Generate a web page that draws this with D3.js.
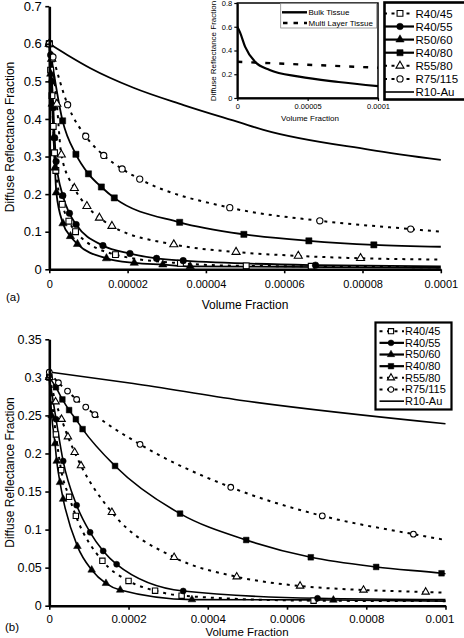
<!DOCTYPE html>
<html><head><meta charset="utf-8">
<script src="https://cdn.jsdelivr.net/npm/d3@7"></script>
<style>
body{margin:0;background:#fff;}
svg{display:block;font-family:"Liberation Sans",Arial,Helvetica,sans-serif;}
</style></head><body>
<svg id="c" width="464" height="638"></svg>
<script>
// ================= DATA =================
const seriesNames = ["R40/45","R40/55","R50/60","R40/80","R55/80","R75/115","R10-Au"];

// ---- panel (a): volume fraction 0 .. 0.0001 ----
const aVolR4045 = [0, 0.33e-6, 0.67e-6, 1.0e-6, 1.33e-6, 1.67e-6, 3.3e-6, 5.0e-6, 6.7e-6, 1.69e-5, 3.35e-5, 5.03e-5, 6.69e-5];
const aRefR4045 = [0.60, 0.53, 0.462, 0.38, 0.31, 0.263, 0.173, 0.128, 0.100, 0.039, 0.016, 0.009, 0.008];
const aVolR4055 = [0, 0.34e-6, 0.68e-6, 1.03e-6, 1.37e-6, 1.74e-6, 3.45e-6, 5.14e-6, 6.85e-6, 1.37e-5, 2.06e-5, 2.74e-5, 3.42e-5, 6.8e-5];
const aRefR4055 = [0.60, 0.57, 0.50, 0.43, 0.35, 0.287, 0.196, 0.149, 0.119, 0.063, 0.042, 0.029, 0.023, 0.011];
const aVolR5060 = [0, 0.36e-6, 0.72e-6, 1.08e-6, 1.44e-6, 1.8e-6, 3.5e-6, 5.4e-6, 7.2e-6, 1.46e-5, 2.17e-5, 2.9e-5, 3.6e-5];
const aRefR5060 = [0.60, 0.52, 0.44, 0.35, 0.27, 0.204, 0.122, 0.088, 0.067, 0.029, 0.017, 0.0125, 0.008];
const aVolR4080 = [0, 3.4e-6, 6.8e-6, 1.0e-5, 1.33e-5, 1.66e-5, 3.33e-5, 4.97e-5, 6.63e-5, 8.29e-5];
const aRefR4080 = [0.60, 0.395, 0.306, 0.254, 0.219, 0.190, 0.125, 0.093, 0.0757, 0.065];
const aVolR5580 = [0, 0.64e-6, 1.92e-6, 3.07e-6, 6.4e-6, 9.6e-6, 1.28e-5, 1.6e-5, 3.18e-5, 4.77e-5, 6.36e-5, 7.95e-5];
const aRefR5580 = [0.60, 0.56, 0.44, 0.305, 0.216, 0.168, 0.137, 0.115, 0.066, 0.046, 0.0356, 0.0294];
const aVolR75115 = [0, 0.93e-6, 4.68e-6, 9.3e-6, 1.39e-5, 1.86e-5, 2.31e-5, 4.61e-5, 6.91e-5, 9.23e-5];
const aRefR75115 = [0.60, 0.565, 0.438, 0.354, 0.303, 0.267, 0.240, 0.164, 0.129, 0.107];
const aVolR10Au = [0, 4.5e-6, 1.05e-5, 2.15e-5, 3.43e-5, 4.88e-5, 5.47e-5, 8.2e-5, 1.0e-4];
const aRefR10Au = [0.60, 0.571, 0.535, 0.483, 0.437, 0.39, 0.371, 0.318, 0.291];
// value of each fitted line where it reaches the right edge (0.0001)
const aLineEnd = [0.005, 0.008, 0.004, 0.060, 0.026, 0.100, null];

// ---- inset of panel (a) ----
const insetNames = ["Bulk Tissue","Multi Layer Tissue"];
const insetVolBulk = [0, 2.0e-6, 5.6e-6, 1.26e-5, 2.3e-5, 4.4e-5, 7.2e-5, 1.0e-4];
const insetRefBulk = [0.60, 0.55, 0.43, 0.305, 0.236, 0.18, 0.135, 0.10];
const insetVolMulti = [0, 5e-5, 1.0e-4];
const insetRefMulti = [0.305, 0.28, 0.255];

// ---- panel (b): volume fraction 0 .. 0.001 ----
const bVolR4045 = [0, 1.67e-5, 3.0e-5, 5.0e-5, 6.7e-5, 1.34e-4, 2.0e-4, 2.67e-4, 3.34e-4, 6.67e-4];
const bRefR4045 = [0.30, 0.225, 0.178, 0.143, 0.118, 0.059, 0.0325, 0.0197, 0.0131, 0.0066];
const bVolR4055 = [0, 1.7e-5, 3.5e-5, 6.9e-5, 1.03e-4, 1.36e-4, 1.70e-4, 3.38e-4, 6.77e-4];
const bRefR4055 = [0.30, 0.245, 0.19, 0.132, 0.0964, 0.0719, 0.0544, 0.0193, 0.0097];
const bVolR5060 = [0, 6e-6, 1.44e-5, 1.87e-5, 2.7e-5, 3.5e-5, 7.1e-5, 1.07e-4, 1.43e-4, 1.79e-4, 3.6e-4, 7.17e-4];
const bRefR5060 = [0.30, 0.25, 0.213, 0.19, 0.162, 0.14, 0.078, 0.047, 0.0294, 0.0206, 0.008, 0.0075];
const bVolR4080 = [0, 1.67e-5, 3.3e-5, 5.0e-5, 6.7e-5, 8.4e-5, 1.66e-4, 3.3e-4, 4.97e-4, 6.6e-4, 8.25e-4, 9.9e-4];
const bRefR4080 = [0.30, 0.287, 0.271, 0.257, 0.245, 0.232, 0.1836, 0.121, 0.0863, 0.0636, 0.0509, 0.0426];
const bVolR5580 = [0, 1.59e-5, 3.1e-5, 4.7e-5, 6.4e-5, 8.0e-5, 1.58e-4, 3.15e-4, 4.73e-4, 6.33e-4, 7.93e-4, 9.5e-4];
const bRefR5580 = [0.30, 0.268, 0.245, 0.222, 0.2015, 0.184, 0.1227, 0.0636, 0.038, 0.0259, 0.0206, 0.018];
const bVolR75115 = [0, 2.3e-5, 4.6e-5, 6.9e-5, 9.2e-5, 1.15e-4, 2.29e-4, 4.58e-4, 6.89e-4, 9.19e-4];
const bRefR75115 = [0.307, 0.293, 0.282, 0.271, 0.261, 0.251, 0.212, 0.1556, 0.118, 0.094];
const bVolR10Au = [0, 2.12e-4, 4.81e-4, 1.0e-3];
const bRefR10Au = [0.307, 0.292, 0.270, 0.239];
const bLineEnd = [0.006, 0.008, 0.006, 0.042, 0.017, 0.0863, null];

// ---- tick labels ----
const aXTicks = [0, 0.00002, 0.00004, 0.00006, 0.00008, 0.0001];
const aXLabels = ["0","0.00002","0.00004","0.00006","0.00008","0.0001"];
const aYTicks = [0, 0.1, 0.2, 0.3, 0.4, 0.5, 0.6, 0.7];
const aYLabels = ["0","0.1","0.2","0.3","0.4","0.5","0.6","0.7"];
const bXTicks = [0, 0.0002, 0.0004, 0.0006, 0.0008, 0.001];
const bXLabels = ["0","0.0002","0.0004","0.0006","0.0008","0.001"];
const bYTicks = [0, 0.05, 0.1, 0.15, 0.2, 0.25, 0.3, 0.35];
const bYLabels = ["0","0.05","0.1","0.15","0.2","0.25","0.3","0.35"];
const inXTicks = [0, 0.00005, 0.0001];
const inXLabels = ["0","0.00005","0.0001"];
const inYTicks = [0, 0.2, 0.4, 0.6, 0.8];
const inYLabels = ["0","0.2","0.4","0.6","0.8"];

const yTitle = "Diffuse Reflectance Fraction";
const xTitle = "Volume Fraction";

// ================= DRAWING =================
const svg = d3.select("#c");
const style = [
  {sym: d3.symbolSquare,   open: true,  dashed: true,  size: 34},
  {sym: d3.symbolCircle,   open: false, dashed: false, size: 34},
  {sym: d3.symbolTriangle, open: false, dashed: false, size: 30},
  {sym: d3.symbolSquare,   open: false, dashed: false, size: 38},
  {sym: d3.symbolTriangle, open: true,  dashed: true,  size: 28},
  {sym: d3.symbolCircle,   open: true,  dashed: true,  size: 30},
  {sym: null,              open: false, dashed: false, size: 0}
];

function drawAxes(g, x, y, xT, xL, yT, yL, o) {
  const ax = g.append("g").attr("transform", `translate(0,${y.range()[0]})`)
    .call(d3.axisBottom(x).tickValues(xT).tickFormat((d,i)=>xL[i]).tickSize(o.tick).tickSizeOuter(0).tickPadding(o.xpad));
  const ay = g.append("g").attr("transform", `translate(${x.range()[0]},0)`)
    .call(d3.axisLeft(y).tickValues(yT).tickFormat((d,i)=>yL[i]).tickSize(o.tick).tickSizeOuter(0).tickPadding(o.ypad));
  [ax, ay].forEach(a => {
    a.select(".domain").attr("stroke","#000").attr("stroke-width",o.axisW);
    a.selectAll(".tick line").attr("stroke","#000").attr("stroke-width",o.tickW);
    a.selectAll("text").attr("fill","#000").style("font-family",'"Liberation Sans",Arial,sans-serif');
  });
  ax.selectAll("text").style("font-size",o.xfs+"px");
  ay.selectAll("text").style("font-size",o.yfs+"px");
  return {ax, ay};
}

function drawSeries(g, x, y, vols, refs, ends, o) {
  const line = d3.line().x(d=>x(d[0])).y(d=>y(d[1])).curve(d3.curveMonotoneX);
  const xmax = x.domain()[1];
  vols.forEach((v,i) => {
    const pts = v.map((vv,j)=>[vv, refs[i][j]]);
    const lp = ends[i] === null ? pts : pts.concat([[xmax, ends[i]]]);
    const st = style[i];
    g.append("path").attr("d", line(lp)).attr("fill","none").attr("stroke","#000")
      .attr("stroke-width", st.dashed ? o.dashW : o.lineW)
      .attr("stroke-dasharray", st.dashed ? o.dash : null);
  });
  vols.forEach((v,i) => {
    const st = style[i];
    if (!st.sym) return;
    const pts = v.map((vv,j)=>[vv, refs[i][j]]);
    g.selectAll(null).data(pts).enter().append("path")
      .attr("transform", d=>`translate(${x(d[0])},${y(d[1])})`)
      .attr("d", d3.symbol().type(st.sym).size(st.size * o.mscale))
      .attr("fill", st.open ? "#fff" : "#000")
      .attr("stroke", "#000").attr("stroke-width", st.open ? 1.1 : 0.5);
  });
}

function drawLegend(g, o) {
  g.append("rect").attr("x",o.x).attr("y",o.y).attr("width",o.w).attr("height",o.h)
    .attr("fill","#fff").attr("stroke","#000").attr("stroke-width",o.bw);
  seriesNames.forEach((name,i) => {
    const cy = o.row0 + i*o.step;
    const st = style[i];
    g.append("line").attr("x1",o.l1).attr("x2",o.l2).attr("y1",cy).attr("y2",cy)
      .attr("stroke","#000").attr("stroke-width", st.dashed ? 2 : (st.sym ? 2.2 : 1.6))
      .attr("stroke-dasharray", st.dashed ? o.dash : null);
    if (st.sym) {
      g.append("path").attr("transform",`translate(${o.mx},${cy})`)
        .attr("d", d3.symbol().type(st.sym).size(st.size*o.mscale))
        .attr("fill", st.open ? "#fff" : "#000").attr("stroke","#000").attr("stroke-width", st.open?1.1:0.5);
    }
    g.append("text").attr("x",o.tx).attr("y",cy).attr("dy","0.36em")
      .style("font-size",o.fs+"px").text(name);
  });
}

// ---------- panel (a) ----------
const ga = svg.append("g");
const xa = d3.scaleLinear().domain([0, 0.0001]).range([49.3, 440.8]);
const ya = d3.scaleLinear().domain([0, 0.7]).range([269.3, 6.2]);
drawSeries(ga, xa, ya,
  [aVolR4045, aVolR4055, aVolR5060, aVolR4080, aVolR5580, aVolR75115, aVolR10Au],
  [aRefR4045, aRefR4055, aRefR5060, aRefR4080, aRefR5580, aRefR75115, aRefR10Au],
  aLineEnd, {lineW:1.8, dashW:2, dash:"3,5", mscale:1});
drawAxes(ga, xa, ya, aXTicks, aXLabels, aYTicks, aYLabels,
  {tick:4, xpad:6.5, ypad:3.5, axisW:2.6, tickW:1.6, xfs:11, yfs:13});
ga.append("text").attr("transform","translate(14,137) rotate(-90)").attr("text-anchor","middle")
  .style("font-size","12px").text(yTitle);
ga.append("text").attr("x",245).attr("y",308.5).attr("text-anchor","middle").style("font-size","12px").text(xTitle);
ga.append("text").attr("x",6).attr("y",301).style("font-size","11.5px").text("(a)");

// inset
const gi = svg.append("g");
const xi = d3.scaleLinear().domain([0, 0.0001]).range([237.3, 378]);
const yi = d3.scaleLinear().domain([0, 0.8]).range([98, 3]);
gi.append("rect").attr("x",237.3).attr("y",3).attr("width",378-237.3).attr("height",95)
  .attr("fill","#fff").attr("stroke","#000").attr("stroke-width",1.5);
const iline = d3.line().x(d=>xi(d[0])).y(d=>yi(d[1])).curve(d3.curveMonotoneX);
gi.append("path").attr("d", iline(insetVolBulk.map((v,j)=>[v, insetRefBulk[j]])))
  .attr("fill","none").attr("stroke","#000").attr("stroke-width",2.2);
gi.append("path").attr("d", iline(insetVolMulti.map((v,j)=>[v, insetRefMulti[j]])))
  .attr("fill","none").attr("stroke","#000").attr("stroke-width",2.4).attr("stroke-dasharray","5,9");
const ia = drawAxes(gi, xi, yi, inXTicks, inXLabels, inYTicks, inYLabels,
  {tick:3, xpad:3, ypad:2, axisW:2, tickW:1.2, xfs:7.5, yfs:7.5});
gi.append("text").attr("transform","translate(215.5,51) rotate(-90)").attr("text-anchor","middle")
  .style("font-size","8px").text(yTitle);
gi.append("text").attr("x",310).attr("y",120.5).attr("text-anchor","middle").style("font-size","8px").text(xTitle);
// inset legend
gi.append("rect").attr("x",280.7).attr("y",3.5).attr("width",96).attr("height",24.5)
  .attr("fill","#fff").attr("stroke","#888").attr("stroke-width",0.8);
gi.append("line").attr("x1",282).attr("x2",307).attr("y1",12.3).attr("y2",12.3)
  .attr("stroke","#000").attr("stroke-width",2.4);
gi.append("line").attr("x1",283).attr("x2",307).attr("y1",23).attr("y2",23)
  .attr("stroke","#000").attr("stroke-width",2.4).attr("stroke-dasharray","4.5,6");
gi.append("text").attr("x",308.5).attr("y",12.3).attr("dy","0.36em").style("font-size","8px").text(insetNames[0]);
gi.append("text").attr("x",308.5).attr("y",23).attr("dy","0.36em").style("font-size","8px").text(insetNames[1]);

// main legend (a)
drawLegend(svg.append("g"), {x:384.5, y:2.5, w:90, h:97, bw:2.6, row0:13.4, step:13.1,
  l1:384, l2:414, mx:400, tx:415.5, fs:11.5, dash:"3,4.5", mscale:1});

// ---------- panel (b) ----------
const gb = svg.append("g");
const xb = d3.scaleLinear().domain([0, 0.001]).range([49.3, 445.5]);
const yb = d3.scaleLinear().domain([0, 0.35]).range([605.7, 339.3]);
drawSeries(gb, xb, yb,
  [bVolR4045, bVolR4055, bVolR5060, bVolR4080, bVolR5580, bVolR75115, bVolR10Au],
  [bRefR4045, bRefR4055, bRefR5060, bRefR4080, bRefR5580, bRefR75115, bRefR10Au],
  bLineEnd, {lineW:1.6, dashW:2, dash:"3,5", mscale:0.85});
const bax = drawAxes(gb, xb, yb, bXTicks, bXLabels, bYTicks, bYLabels,
  {tick:4, xpad:5.5, ypad:3.5, axisW:2.6, tickW:1.6, xfs:11.5, yfs:12.5});
bax.ax.selectAll(".tick text").filter((d,i)=>i===bXTicks.length-1).attr("dx","-6");
gb.append("text").attr("transform","translate(14,472.5) rotate(-90)").attr("text-anchor","middle")
  .style("font-size","12px").text(yTitle);
gb.append("text").attr("x",247).attr("y",636).attr("text-anchor","middle").style("font-size","11.5px").text(xTitle);
gb.append("text").attr("x",5).attr("y",630.5).style("font-size","11.5px").text("(b)");

drawLegend(svg.append("g"), {x:375.5, y:322.5, w:76, h:87, bw:2.2, row0:331.2, step:11.66,
  l1:379.5, l2:404, mx:391, tx:405, fs:11, dash:"3,4.5", mscale:0.8});
</script>
</body></html>
